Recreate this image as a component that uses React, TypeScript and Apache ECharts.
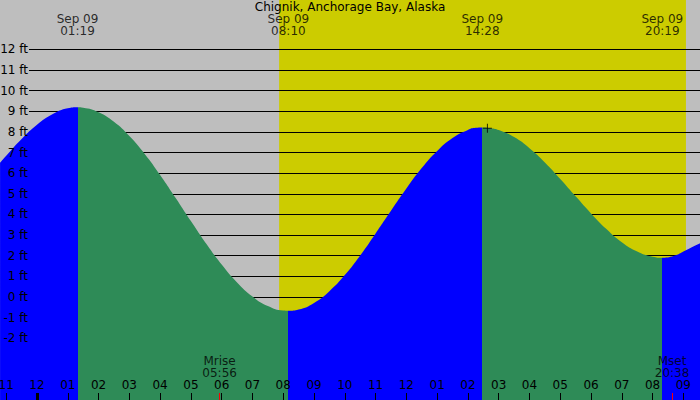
import React, { useEffect, useRef } from 'react';
import * as echarts from 'echarts';

const TITLE = 'Chignik, Anchorage Bay, Alaska';
const DATE_LABEL = 'Sep 09';

// Tide height: hours from midnight Sep 09 -> feet
const CURVE_HOURS = [
  -1.2, -1, -0.5, 0, 0.5, 1, 1.317,
  1.5, 2, 2.5, 3, 3.5, 4, 4.5, 5, 5.5, 6, 6.5, 7, 7.5, 8, 8.167,
  8.5, 9, 9.5, 10, 10.5, 11, 11.5, 12, 12.5, 13, 13.5, 14, 14.25, 14.467,
  14.75, 15, 15.5, 16, 16.5, 17, 17.5, 18, 18.5, 19, 19.5, 20, 20.317,
  20.75, 21, 21.54,
];
const CURVE_FT = [
  6.51, 6.85, 7.66, 8.35, 8.86, 9.15, 9.2,
  9.18, 8.96, 8.49, 7.8, 6.93, 5.91, 4.81, 3.68, 2.58, 1.57, 0.7, 0.02, -0.44, -0.66, -0.67,
  -0.61, -0.29, 0.28, 1.06, 2.01, 3.08, 4.18, 5.26, 6.25, 7.08, 7.71, 8.1, 8.2, 8.22,
  8.18, 8.09, 7.75, 7.21, 6.52, 5.72, 4.88, 4.05, 3.29, 2.65, 2.2, 1.95, 1.9,
  2.02, 2.2, 2.6,
];

// High / low tide times printed along the top
const EXTREME_TIMES = ['01:19', '08:10', '14:28', '20:19'];
const EXTREME_KIND = ['high', 'low', 'high', 'low'];

const SUNRISE = '07:52';
const SUNSET = '21:05';

const MOON_NAMES = ['Mrise', 'Mset'];
const MOON_TIMES = ['05:56', '20:38'];

const NOW_TIME = '14:38';
const NOW_FT = 8.18;

const HOUR_TICKS = [-1, 0, 1, 2, 3, 4, 5, 6, 7, 8, 9, 10, 11, 12, 13, 14, 15, 16, 17, 18, 19, 20, 21];
const HOUR_LABELS = [
  '11', '12', '01', '02', '03', '04', '05', '06', '07', '08', '09', '10',
  '11', '12', '01', '02', '03', '04', '05', '06', '07', '08', '09',
];
const FT_TICKS = [-2, -1, 0, 1, 2, 3, 4, 5, 6, 7, 8, 9, 10, 11, 12];

// colours
const GRAY = '#BEBEBE';
const YELLOW = '#CCCC00';
const RISING = '#0000FF';
const FALLING = '#2E8B57';
const FONT = 'DejaVu Sans';

// axis ranges (hours / feet) so the plot fills the whole 700x400 canvas
const X_MIN = -1.202;
const X_MAX = 21.54;
const Y_MIN = -5;
const Y_MAX = 14.4;
const GRID_LINE_START = -0.26; // lines begin just right of the ft labels
const TICK_TOP_FT = -4.66;
const TIDE_LABEL_FT = 13.17;
const MOON_LABEL_FT = -3.41;

const toHours = (t: string) => {
  const [h, m] = t.split(':').map(Number);
  return h + m / 60;
};

export default function App() {
  const chartRef = useRef<HTMLDivElement>(null);

  useEffect(() => {
    if (!chartRef.current) return;
    const chart = echarts.init(chartRef.current, null, { renderer: 'svg' });

    const extremeHours = EXTREME_TIMES.map(toHours);

    // colour by direction: rising before a high, falling before a low
    const pieces: any[] = [{ lt: extremeHours[0], color: RISING }];
    extremeHours.forEach((h, i) => {
      const piece: any = { gte: h, color: EXTREME_KIND[i] === 'high' ? FALLING : RISING };
      if (i + 1 < extremeHours.length) piece.lt = extremeHours[i + 1];
      pieces.push(piece);
    });

    const gridLines = FT_TICKS.map((v) => [
      { coord: [GRID_LINE_START, v] },
      { coord: [X_MAX, v] },
    ]);

    const tickLines: any[] = [
      [
        { coord: [0, Y_MIN], lineStyle: { color: '#000', width: 3 } },
        { coord: [0, TICK_TOP_FT] },
      ],
      ...MOON_TIMES.map((t) => [
        { coord: [toHours(t), Y_MIN], lineStyle: { color: '#FF0000', width: 1 } },
        { coord: [toHours(t), TICK_TOP_FT] },
      ]),
    ];

    const labelData = [
      ...EXTREME_TIMES.map((t, i) => ({
        name: `${DATE_LABEL}\n${t}`,
        value: [extremeHours[i], TIDE_LABEL_FT],
      })),
      ...MOON_TIMES.map((t, i) => ({
        name: `${MOON_NAMES[i]}\n${t}`,
        value: [toHours(t), MOON_LABEL_FT],
      })),
    ];

    const option: any = {
      animation: false,
      backgroundColor: GRAY,
      textStyle: { fontFamily: FONT },
      title: {
        text: TITLE,
        left: 'center',
        top: 1,
        padding: 0,
        textStyle: { fontSize: 12, fontWeight: 'normal', color: '#000', fontFamily: FONT },
      },
      grid: { left: 0, right: 0, top: 0, bottom: 0, outerBoundsMode: 'none', containLabel: false },
      xAxis: {
        type: 'value',
        min: X_MIN,
        max: X_MAX,
        z: 10,
        axisLine: { show: false, onZero: false },
        splitLine: { show: false },
        axisTick: {
          show: true,
          inside: true,
          length: 7,
          customValues: HOUR_TICKS,
          lineStyle: { color: '#000', width: 1 },
        },
        axisLabel: {
          show: true,
          inside: true,
          margin: 15,
          verticalAlign: 'middle',
          customValues: HOUR_TICKS,
          formatter: (v: number) => HOUR_LABELS[HOUR_TICKS.indexOf(Math.round(v))] ?? '',
          color: '#000',
          fontSize: 12,
          fontFamily: FONT,
        },
      },
      yAxis: {
        type: 'value',
        min: Y_MIN,
        max: Y_MAX,
        z: 10,
        axisLine: { show: false, onZero: false },
        axisTick: { show: false },
        splitLine: { show: false },
        axisLabel: {
          show: true,
          inside: true,
          align: 'right',
          margin: 28,
          customValues: FT_TICKS,
          formatter: (v: number) => `${v} ft`,
          color: '#000',
          fontSize: 12,
          fontFamily: FONT,
        },
      },
      visualMap: {
        type: 'piecewise',
        show: false,
        dimension: 0,
        seriesIndex: 0,
        pieces,
      },
      series: [
        {
          name: 'Tide',
          type: 'line',
          z: 3,
          silent: true,
          smooth: true,
          showSymbol: false,
          symbol: 'none',
          data: CURVE_HOURS.map((h, i) => [h, CURVE_FT[i]]),
          lineStyle: { width: 0 },
          areaStyle: { origin: 'start', opacity: 1 },
          markArea: {
            z: 1,
            silent: true,
            itemStyle: { color: YELLOW, opacity: 1 },
            data: [[{ xAxis: toHours(SUNRISE) }, { xAxis: toHours(SUNSET) }]],
          },
          markLine: {
            z: 2,
            silent: true,
            symbol: ['none', 'none'],
            label: { show: false },
            lineStyle: { color: '#000', width: 1, type: 'solid' },
            data: gridLines,
          },
        },
        {
          name: 'Labels',
          type: 'scatter',
          z: 10,
          silent: true,
          symbolSize: 1,
          itemStyle: { color: 'rgba(0,0,0,0)' },
          data: labelData,
          label: {
            show: true,
            position: 'inside',
            formatter: '{b}',
            color: '#000',
            fontSize: 12,
            lineHeight: 12,
            fontFamily: FONT,
          },
          markLine: {
            z: 10,
            silent: true,
            symbol: ['none', 'none'],
            label: { show: false },
            lineStyle: { type: 'solid' },
            data: tickLines,
          },
        },
        {
          name: 'Now',
          type: 'scatter',
          z: 10,
          silent: true,
          symbol: 'path://M0 5H10M5 0V10',
          symbolSize: 9,
          itemStyle: { color: 'rgba(0,0,0,0)', borderColor: '#000', borderWidth: 1 },
          data: [[toHours(NOW_TIME), NOW_FT]],
        },
      ],
    };

    chart.setOption(option);
    return () => chart.dispose();
  }, []);

  return (
    <div
      ref={chartRef}
      style={{ position: 'absolute', left: 0, top: 0, width: 700, height: 400 }}
    />
  );
}
